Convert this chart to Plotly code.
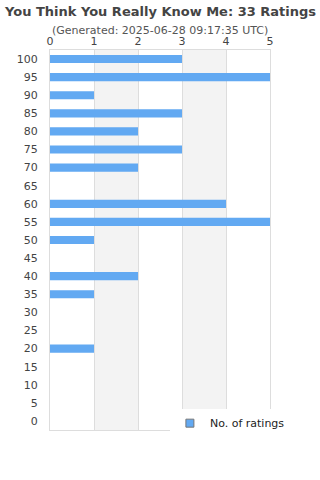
import plotly.graph_objects as go

categories = ["100", "95", "90", "85", "80", "75", "70", "65", "60", "55", "50",
              "45", "40", "35", "30", "25", "20", "15", "10", "5", "0"]
counts = [3, 5, 1, 3, 2, 3, 2, 0, 4, 5, 1, 0, 2, 1, 0, 0, 1, 0, 0, 0, 0]
x_ticks = [0, 1, 2, 3, 4, 5]
title_text = "You Think You Really Know Me: 33 Ratings"
subtitle_text = "(Generated: 2025-06-28 09:17:35 UTC)"
series_name = "No. of ratings"

FONT = "DejaVu Sans"
BAR = "#62a9f2"
fig = go.Figure()
fig.add_trace(go.Bar(
    y=categories, x=counts, orientation="h", name=series_name,
    marker=dict(color=BAR, line=dict(width=0)),
    showlegend=False,
))
# legend entry with a small square swatch
fig.add_trace(go.Scatter(
    x=[None], y=[None], mode="markers", name=series_name,
    marker=dict(symbol="square", size=8, color=BAR, line=dict(color="#777", width=1)),
    showlegend=True,
))

shapes = []
for a, b in [(1, 2), (3, 4)]:
    shapes.append(dict(type="rect", xref="x", yref="paper", x0=a, x1=b, y0=0, y1=1,
                       fillcolor="#f3f3f3", line=dict(width=0), layer="below"))

plot_h = 380
fig.update_layout(
    width=320, height=480,
    margin=dict(l=50, r=50, t=50, b=50),
    paper_bgcolor="white", plot_bgcolor="white",
    font=dict(family=FONT, size=11, color="#444"),
    bargap=0.55,
    shapes=shapes,
    xaxis=dict(side="top", range=[0, 5], tickvals=x_ticks, showgrid=True,
               gridcolor="#dddddd", showline=True, linecolor="#dddddd", mirror=True,
               zeroline=False, ticks="", tickfont=dict(size=11, color="#444")),
    yaxis=dict(categoryorder="array", categoryarray=categories, autorange="reversed",
               showgrid=False, showline=True, linecolor="#dddddd", mirror=True,
               ticks="", ticklabelstandoff=9, tickfont=dict(size=11, color="#444")),
    legend=dict(x=0.545, y=0.018, xanchor="left", yanchor="middle", bgcolor="white",
                font=dict(size=11, color="#222"), borderwidth=0, itemwidth=30),
    annotations=[
        dict(text="<b>" + title_text + "</b>", x=0.5, y=1 + (50 - 12) / plot_h,
             xref="paper", yref="paper", yanchor="middle",
             showarrow=False, font=dict(size=13, color="#444")),
        dict(text=subtitle_text, x=0.5, y=1 + (50 - 30) / plot_h,
             xref="paper", yref="paper", yanchor="middle", showarrow=False,
             font=dict(size=11, color="#555")),
    ],
)
fig.write_html("out.html")
